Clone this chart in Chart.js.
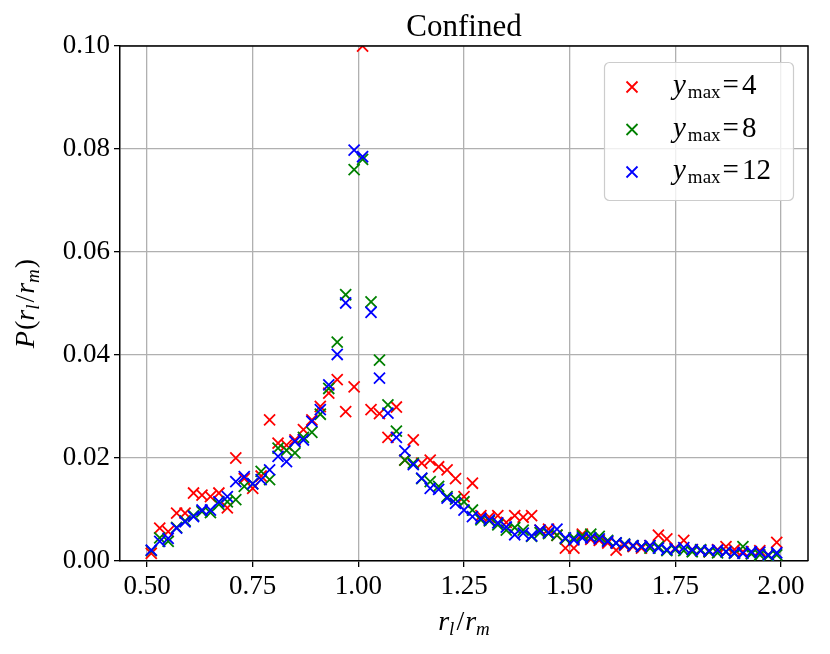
<!DOCTYPE html>
<html>
<head>
<meta charset="utf-8">
<script src="https://cdn.jsdelivr.net/npm/chart.js@4.4.1/dist/chart.umd.min.js"></script>
<style>
html,body{margin:0;padding:0;background:#fff;}
#wrap{width:830px;height:654px;position:relative;}
</style>
</head>
<body>
<div id="wrap"><canvas id="c"></canvas></div>
<script>
// ---------------- data ----------------
const binCenters = [
0.51,0.53,0.55,0.57,0.59,0.61,0.63,0.65,0.67,0.69,
0.71,0.73,0.75,0.77,0.79,0.81,0.83,0.85,0.87,0.89,
0.91,0.93,0.95,0.97,0.99,1.01,1.03,1.05,1.07,1.09,
1.11,1.13,1.15,1.17,1.19,1.21,1.23,1.25,1.27,1.29,
1.31,1.33,1.35,1.37,1.39,1.41,1.43,1.45,1.47,1.49,
1.51,1.53,1.55,1.57,1.59,1.61,1.63,1.65,1.67,1.69,
1.71,1.73,1.75,1.77,1.79,1.81,1.83,1.85,1.87,1.89,
1.91,1.93,1.95,1.97,1.99];

const ymax4 = [
0.0015,0.0064,0.0057,0.0093,0.0093,0.0132,0.0128,0.0125,0.0132,0.0103,
0.0200,0.0160,0.0141,0.0165,0.0274,0.0229,0.0225,0.0235,0.0255,0.0274,
0.0300,0.0326,0.0352,0.0290,0.0338,0.1000,0.0294,0.0286,0.0240,0.0299,
0.0196,0.0235,0.0190,0.0196,0.0183,0.0177,0.0160,0.0125,0.0151,0.0088,
0.0085,0.0088,0.0075,0.0088,0.0085,0.0088,0.0060,0.0062,0.0050,0.0025,
0.0025,0.0052,0.0042,0.0040,0.0035,0.0021,0.0030,0.0028,0.0025,0.0030,
0.0050,0.0043,0.0025,0.0040,0.0022,0.0020,0.0018,0.0022,0.0028,0.0022,
0.0018,0.0015,0.0020,0.0012,0.0036];

const ymax8 = [
0.0020,0.0045,0.0038,0.0065,0.0078,0.0088,0.0096,0.0094,0.0110,0.0115,
0.0119,0.0145,0.0150,0.0174,0.0158,0.0219,0.0215,0.0210,0.0240,0.0250,
0.0285,0.0335,0.0425,0.0517,0.0760,0.0780,0.0503,0.0390,0.0303,0.0252,
0.0196,0.0190,0.0160,0.0154,0.0145,0.0125,0.0120,0.0115,0.0099,0.0080,
0.0078,0.0070,0.0060,0.0065,0.0060,0.0048,0.0055,0.0053,0.0050,0.0043,
0.0045,0.0049,0.0052,0.0048,0.0040,0.0035,0.0033,0.0030,0.0028,0.0025,
0.0028,0.0020,0.0022,0.0020,0.0018,0.0022,0.0018,0.0016,0.0018,0.0015,
0.0028,0.0014,0.0012,0.0010,0.0012];

const ymax12 = [
0.0021,0.0038,0.0044,0.0064,0.0076,0.0086,0.0099,0.0099,0.0115,0.0125,
0.0154,0.0164,0.0150,0.0158,0.0177,0.0203,0.0193,0.0232,0.0235,0.0271,
0.0294,0.0342,0.0401,0.0501,0.0798,0.0785,0.0483,0.0355,0.0287,0.0240,
0.0214,0.0187,0.0161,0.0141,0.0139,0.0122,0.0112,0.0099,0.0086,0.0083,
0.0080,0.0074,0.0066,0.0051,0.0054,0.0049,0.0060,0.0055,0.0062,0.0045,
0.0041,0.0045,0.0045,0.0043,0.0038,0.0035,0.0032,0.0030,0.0028,0.0030,
0.0025,0.0022,0.0024,0.0026,0.0022,0.0020,0.0020,0.0021,0.0018,0.0016,
0.0015,0.0018,0.0017,0.0012,0.0016];

const xTicks = [0.50,0.75,1.00,1.25,1.50,1.75,2.00];
const yTicks = [0.00,0.02,0.04,0.06,0.08,0.10];
const seriesNames = ['4','8','12'];
const seriesColors = ['#ff0000','#008000','#0000ff'];
const titleText = 'Confined';

// ---------------- helpers ----------------
const FAM = '"Liberation Serif", "Times New Roman", serif';
const TICK_SIZE = 27;

function pts(vals){ return binCenters.map((x,i)=>({x:x, y:vals[i]})); }

function richWidth(ctx, segs){
  let w = 0;
  for (const s of segs){
    ctx.font = (s.it?'italic ':'') + s.sz + 'px ' + FAM;
    w += ctx.measureText(s.t).width + (s.gap||0);
  }
  return w;
}
function drawRich(ctx, segs, x, y, align){
  let w = richWidth(ctx, segs);
  let cx = align==='center' ? x - w/2 : x;
  ctx.textBaseline = 'alphabetic';
  ctx.textAlign = 'left';
  ctx.fillStyle = '#000';
  for (const s of segs){
    ctx.font = (s.it?'italic ':'') + s.sz + 'px ' + FAM;
    ctx.fillText(s.t, cx, y + (s.dy||0));
    cx += ctx.measureText(s.t).width + (s.gap||0);
  }
}
function drawX(ctx, x, y, h, color, lw){
  ctx.save();
  ctx.strokeStyle = color; ctx.lineWidth = lw;
  ctx.beginPath();
  ctx.moveTo(x-h, y-h); ctx.lineTo(x+h, y+h);
  ctx.moveTo(x-h, y+h); ctx.lineTo(x+h, y-h);
  ctx.stroke();
  ctx.restore();
}

const decor = {
  id: 'decor',
  afterDatasetsDraw(chart){
    const ctx = chart.ctx, a = chart.chartArea;
    ctx.save();
    ctx.strokeStyle = '#000'; ctx.lineWidth = 1.5;
    ctx.beginPath();
    ctx.moveTo(a.left, a.top); ctx.lineTo(a.right, a.top); ctx.lineTo(a.right, a.bottom);
    ctx.stroke();
    ctx.restore();
  },
  afterDraw(chart){
    const ctx = chart.ctx, a = chart.chartArea;
    ctx.save();
    // title
    drawRich(ctx, [{t:titleText, sz:31}], (a.left+a.right)/2, 36, 'center');
    // x label
    drawRich(ctx, [
      {t:'r', it:true, sz:28},
      {t:'l', it:true, sz:19, dy:5, gap:2},
      {t:'/', sz:28, gap:1},
      {t:'r', it:true, sz:28},
      {t:'m', it:true, sz:19, dy:5}
    ], (a.left+a.right)/2, 630, 'center');
    // y label
    ctx.save();
    ctx.translate(34, (a.top+a.bottom)/2);
    ctx.rotate(-Math.PI/2);
    drawRich(ctx, [
      {t:'P', it:true, sz:28, gap:1},
      {t:'(', sz:28},
      {t:'r', it:true, sz:28},
      {t:'l', it:true, sz:19, dy:5, gap:2},
      {t:'/', sz:28, gap:1},
      {t:'r', it:true, sz:28},
      {t:'m', it:true, sz:19, dy:5, gap:1},
      {t:')', sz:28}
    ], 0, 0, 'center');
    ctx.restore();
    // legend
    const lx = 604.5, ly = 62.5, lw = 189, lh = 138;
    ctx.beginPath();
    ctx.roundRect(lx, ly, lw, lh, 5);
    ctx.fillStyle = 'rgba(255,255,255,0.8)';
    ctx.fill();
    ctx.strokeStyle = '#cccccc'; ctx.lineWidth = 1.2;
    ctx.stroke();
    const rows = [87, 129.5, 172];
    for (let i=0;i<3;i++){
      drawX(ctx, 632, rows[i], 5.5, seriesColors[i], 1.8);
      drawRich(ctx, [
        {t:'y', it:true, sz:29, gap:2},
        {t:'max', sz:19, dy:4, gap:2},
        {t:'=', sz:29, gap:3},
        {t:seriesNames[i], sz:29}
      ], 673, rows[i]+7, 'left');
    }
    ctx.restore();
  }
};

const mkDs = (label, vals, color, order) => ({
  label: label,
  data: pts(vals),
  pointStyle: 'crossRot',
  pointRadius: 7.8,
  pointHoverRadius: 7.8,
  pointBorderWidth: 1.8,
  borderColor: color,
  backgroundColor: color,
  showLine: false,
  order: order,
  clip: 0
});

const axisCommon = {
  type: 'linear',
  grid: { color: '#b0b0b0', lineWidth: 1.3, tickColor: '#000', tickLength: 6, tickWidth: 1.3 },
  border: { color: '#000', width: 1.5 },
  ticks: { color: '#000', font: { family: FAM, size: TICK_SIZE }, autoSkip: false, maxRotation: 0, padding: 4,
           callback: v => Number(v).toFixed(2) }
};

new Chart(document.getElementById('c'), {
  type: 'scatter',
  data: {
    datasets: [
      mkDs('y_max=4', ymax4, seriesColors[0], 3),
      mkDs('y_max=8', ymax8, seriesColors[1], 2),
      mkDs('y_max=12', ymax12, seriesColors[2], 1)
    ]
  },
  options: {
    responsive: true,
    maintainAspectRatio: false,
    animation: false,
    events: [],
    layout: { padding: { left: 0, right: 22, top: 46, bottom: 0 } },
    plugins: { legend: { display: false }, tooltip: { enabled: false }, title: { display: false } },
    scales: {
      x: Object.assign({}, axisCommon, {
        min: 0.436, max: 2.064,
        afterBuildTicks: s => { s.ticks = xTicks.map(v => ({ value: v })); },
        afterFit: s => { s.height = 93; }
      }),
      y: Object.assign({}, axisCommon, {
        min: 0, max: 0.1,
        afterBuildTicks: s => { s.ticks = yTicks.map(v => ({ value: v })); },
        afterFit: s => { s.width = 120; }
      })
    }
  },
  plugins: [decor]
});
</script>
</body>
</html>
